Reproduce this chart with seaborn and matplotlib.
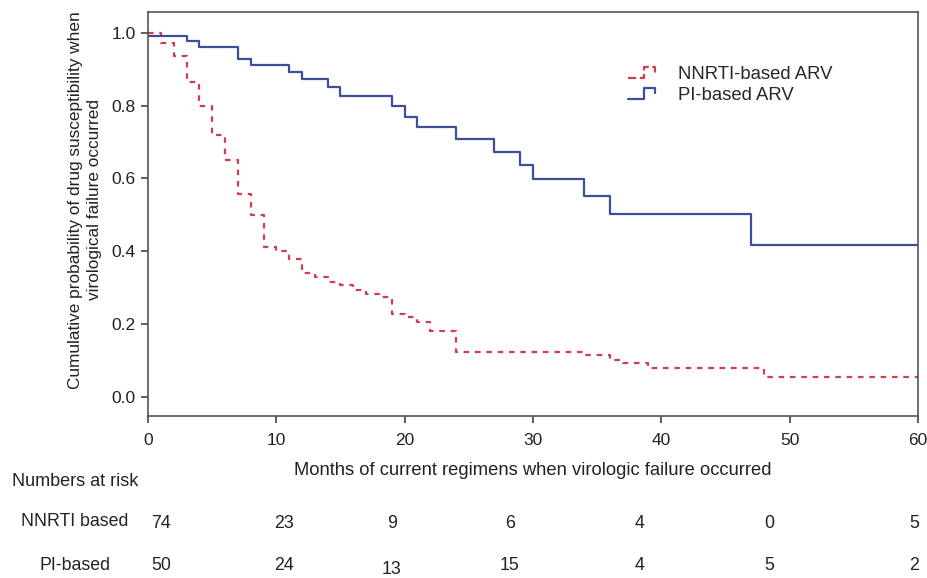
import numpy as np
import pandas as pd
import matplotlib
matplotlib.use("Agg")
import matplotlib.pyplot as plt
import matplotlib.transforms as mtransforms
from matplotlib.legend_handler import HandlerBase
from matplotlib.lines import Line2D
import seaborn as sns

# Kaplan-Meier steps (month, survival after the step)
nnrti_months = [0, 1, 2, 3, 4, 5, 6, 7, 8, 9, 10, 11, 12, 13, 14, 15, 16, 17, 18,
                19, 20, 21, 22, 24, 34, 36, 37, 39, 48]
nnrti_surv = [1.0, 0.972, 0.935, 0.865, 0.80, 0.72, 0.65, 0.557, 0.50, 0.411, 0.399,
              0.379, 0.340, 0.328, 0.316, 0.307, 0.294, 0.282, 0.275,
              0.228, 0.218, 0.206, 0.180, 0.124, 0.114, 0.101, 0.092, 0.080, 0.055]

pi_months = [0, 3, 4, 7, 8, 11, 12, 14, 15, 19, 20, 21, 24, 27, 29, 30, 34, 36, 47]
pi_surv = [0.99, 0.978, 0.962, 0.928, 0.912, 0.893, 0.872, 0.850, 0.826, 0.799,
           0.769, 0.740, 0.709, 0.673, 0.638, 0.598, 0.551, 0.503, 0.417]

follow_up_end = 60

# numbers at risk table
risk_months = [0, 10, 20, 30, 40, 50, 60]
risk_nnrti = [74, 23, 9, 6, 4, 0, 5]
risk_pi = [50, 24, 13, 15, 4, 5, 2]

group_names = ["NNRTI-based ARV", "PI-based ARV"]
row_names = ["NNRTI based", "PI-based"]

red = "#cf3f50"
blue = "#3c4e9c"
txt = "#222222"


def km_frame(months, surv, name):
    m = list(months) + [follow_up_end]
    s = list(surv) + [surv[-1]]
    return pd.DataFrame({"month": m, "surv": s, "group": name})


df_n = km_frame(nnrti_months, nnrti_surv, group_names[0])
df_p = km_frame(pi_months, pi_surv, group_names[1])

sns.set_style("white")
plt.rcParams["font.family"] = ["Liberation Sans", "DejaVu Sans"]

W, H = 928, 578
fig = plt.figure(figsize=(W / 100, H / 100), dpi=100)
ax = fig.add_axes([148 / W, 1 - 416 / H, 770 / W, 404 / H])

sns.lineplot(data=df_n, x="month", y="surv", ax=ax, color=red, lw=1.6,
             drawstyle="steps-post", estimator=None, linestyle=(0, (2.5, 2.6)),
             legend=False)
sns.lineplot(data=df_p, x="month", y="surv", ax=ax, color=blue, lw=1.6,
             drawstyle="steps-post", estimator=None, legend=False)

ax.set_xlim(0, 60)
ax.set_ylim(-0.053, 1.057)
ax.set_xticks(risk_months)
ax.set_yticks([0.0, 0.2, 0.4, 0.6, 0.8, 1.0])
ax.set_yticklabels([f"{v:.1f}" for v in [0.0, 0.2, 0.4, 0.6, 0.8, 1.0]])
for sp in ax.spines.values():
    sp.set_color("#555555")
    sp.set_linewidth(1.2)
    sp.set_visible(True)
ax.tick_params(axis="both", direction="out", length=5, width=1.2, color="#444444",
               labelsize=12.5, labelcolor=txt, pad=4, bottom=True, left=True)
ax.tick_params(axis="x", pad=7)

ax.set_xlabel("Months of current regimens when virologic failure occurred",
              fontsize=13.2, color=txt, labelpad=10)
ax.set_ylabel("Cumulative probability of drug susceptibility when\nvirological failure occurred",
              fontsize=12.4, color=txt, linespacing=1.3)
ax.yaxis.set_label_coords(-0.06, 0.535)


class StepHandler(HandlerBase):
    def create_artists(self, legend, orig_handle, xdescent, ydescent, width, height,
                       fontsize, trans):
        lo, hi, mid = 0.1 * height, 0.9 * height, 0.5 * height
        xs = [0, 0.55 * width, 0.55 * width, 0.95 * width, 0.95 * width]
        ys = [lo, lo, hi, hi, mid]
        ln = Line2D(np.array(xs) - xdescent, np.array(ys) - ydescent,
                    color=orig_handle.get_color(), lw=orig_handle.get_linewidth(),
                    linestyle=orig_handle.get_linestyle())
        ln.set_transform(trans)
        return [ln]


h_n = Line2D([], [], color=red, lw=1.6, linestyle=(0, (2.0, 1.8)))
h_p = Line2D([], [], color=blue, lw=1.6)
ax.legend([h_n, h_p], group_names, handler_map={Line2D: StepHandler()},
          loc="upper left", bbox_to_anchor=(0.624, 0.866), frameon=False,
          fontsize=13.3, handlelength=1.5, handletextpad=1.2, labelspacing=0.2,
          borderpad=0, borderaxespad=0)

# numbers at risk
fig.text(12 / W, 1 - 481 / H, "Numbers at risk", fontsize=13, color=txt,
         ha="left", va="center")
fig.text(75 / W, 1 - 522 / H, row_names[0], fontsize=12.8, color=txt,
         ha="center", va="center")
fig.text(75 / W, 1 - 565 / H, row_names[1], fontsize=12.8, color=txt,
         ha="center", va="center")

trans = mtransforms.blended_transform_factory(ax.transData, fig.transFigure)
x_nudge = [1.0, 0.6, -1.0, -1.8, -1.7, -1.6, -0.3]
y_nudge_pi = [0, 0, -5, 0, 0, 0, 0]
for i, m in enumerate(risk_months):
    ax.text(m + x_nudge[i], 1 - 524 / H, str(risk_nnrti[i]), transform=trans,
            fontsize=12.8, color=txt, ha="center", va="center", clip_on=False)
    ax.text(m + x_nudge[i], 1 - (565 - y_nudge_pi[i]) / H, str(risk_pi[i]),
            transform=trans, fontsize=12.8, color=txt, ha="center",
            va="center", clip_on=False)

fig.savefig("out.png", dpi=100)
